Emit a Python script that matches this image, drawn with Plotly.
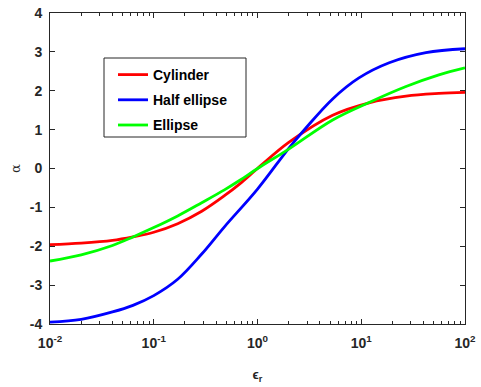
import plotly.graph_objects as go

# Values
eps_cyl = [0.01, 0.02, 0.04, 0.063, 0.1, 0.17, 0.29, 0.48, 0.67, 1.0, 2.0, 5.3, 11.9, 27, 56, 100]
alpha_cyl = [-1.96, -1.92, -1.85, -1.76, -1.64, -1.42, -1.10, -0.70, -0.40, 0.0, 0.67, 1.37, 1.69, 1.86, 1.93, 1.96]

eps_half = [0.01, 0.02, 0.04, 0.063, 0.1, 0.17, 0.29, 0.48, 1.0, 2.0, 2.9, 5.3, 9.5, 18.6, 42, 100]
alpha_half = [-3.95, -3.88, -3.69, -3.52, -3.27, -2.85, -2.20, -1.50, -0.53, 0.52, 1.03, 1.79, 2.33, 2.72, 2.98, 3.08]

eps_ell = [0.01, 0.02, 0.04, 0.063, 0.1, 0.17, 0.29, 0.48, 0.67, 1.0, 2.0, 5.3, 11.9, 27, 56, 100]
alpha_ell = [-2.38, -2.22, -1.98, -1.76, -1.52, -1.22, -0.88, -0.55, -0.31, 0.0, 0.50, 1.25, 1.70, 2.11, 2.41, 2.59]

series_names = ["Cylinder", "Half ellipse", "Ellipse"]
series_colors = ["#FF0000", "#0000FF", "#00FF00"]

x_tickvals = [0.01, 0.1, 1, 10, 100]
x_ticktext = ["10<sup>-2</sup>", "10<sup>-1</sup>", "10<sup>0</sup>", "10<sup>1</sup>", "10<sup>2</sup>"]
y_tickvals = [-4, -3, -2, -1, 0, 1, 2, 3, 4]
y_ticktext = ["-4", "-3", "-2", "-1", "0", "1", "2", "3", "4"]

minor_vals = [m * d for d in x_tickvals[:-1] for m in range(2, 10)]

AX = "#262626"
FONT = "Liberation Sans, Arial, sans-serif"

# plot area in pixels
L, R, T, B = 50, 16, 13, 63
W, H = 481, 387
PW, PH = W - L - R, H - T - B

def px_x(x):
    return (x - L) / PW

def px_y(y):
    return (H - B - y) / PH

fig = go.Figure()
for i, (xs, ys) in enumerate([(eps_cyl, alpha_cyl), (eps_half, alpha_half), (eps_ell, alpha_ell)]):
    fig.add_trace(go.Scatter(
        x=xs, y=ys, mode="lines", name=series_names[i], legendgroup=f"g{i}",
        line=dict(color=series_colors[i], width=2.8, shape="spline", smoothing=1.0),
    ))

# legend frame
fig.add_shape(type="rect", xref="paper", yref="paper",
              x0=px_x(104), x1=px_x(246), y0=px_y(137), y1=px_y(58),
              line=dict(color=AX, width=1), fillcolor="white", layer="below")

fig.update_layout(
    width=W, height=H,
    margin=dict(l=L, r=R, t=T, b=B),
    paper_bgcolor="white", plot_bgcolor="white",
    font=dict(family=FONT, color=AX),
    showlegend=True,
    legend=dict(
        x=px_x(113), y=px_y(59), xanchor="left", yanchor="top",
        bgcolor="rgba(0,0,0,0)", borderwidth=0,
        font=dict(family=FONT, size=14, color="black", weight="bold"),
        tracegroupgap=4,
    ),
    xaxis=dict(
        type="log", range=[-2, 2], automargin=False,
        tickmode="array", tickvals=x_tickvals, ticktext=x_ticktext,
        ticks="inside", ticklen=5, tickcolor=AX, ticklabelstandoff=6,
        minor=dict(tickmode="array", tickvals=minor_vals, ticks="inside", ticklen=3, tickcolor=AX, showgrid=False),
        showline=True, linecolor=AX, linewidth=1, mirror="allticks",
        showgrid=False, zeroline=False,
        tickfont=dict(family=FONT, size=14, color=AX, weight="bold"),
        title=dict(text="ϵ<sub>r</sub>", font=dict(family=FONT, size=13, color=AX, weight="bold"), standoff=20),
    ),
    yaxis=dict(
        range=[-4, 4], automargin=False,
        tickmode="array", tickvals=y_tickvals, ticktext=y_ticktext,
        ticks="inside", ticklen=5, tickcolor=AX, ticklabelstandoff=4,
        showline=True, linecolor=AX, linewidth=1, mirror="allticks",
        showgrid=False, zeroline=False,
        tickfont=dict(family=FONT, size=14, color=AX, weight="bold"),
        title=dict(text="α", font=dict(family="DejaVu Serif, serif", size=13, color=AX), standoff=6),
    ),
)

fig.write_html("out.html")
